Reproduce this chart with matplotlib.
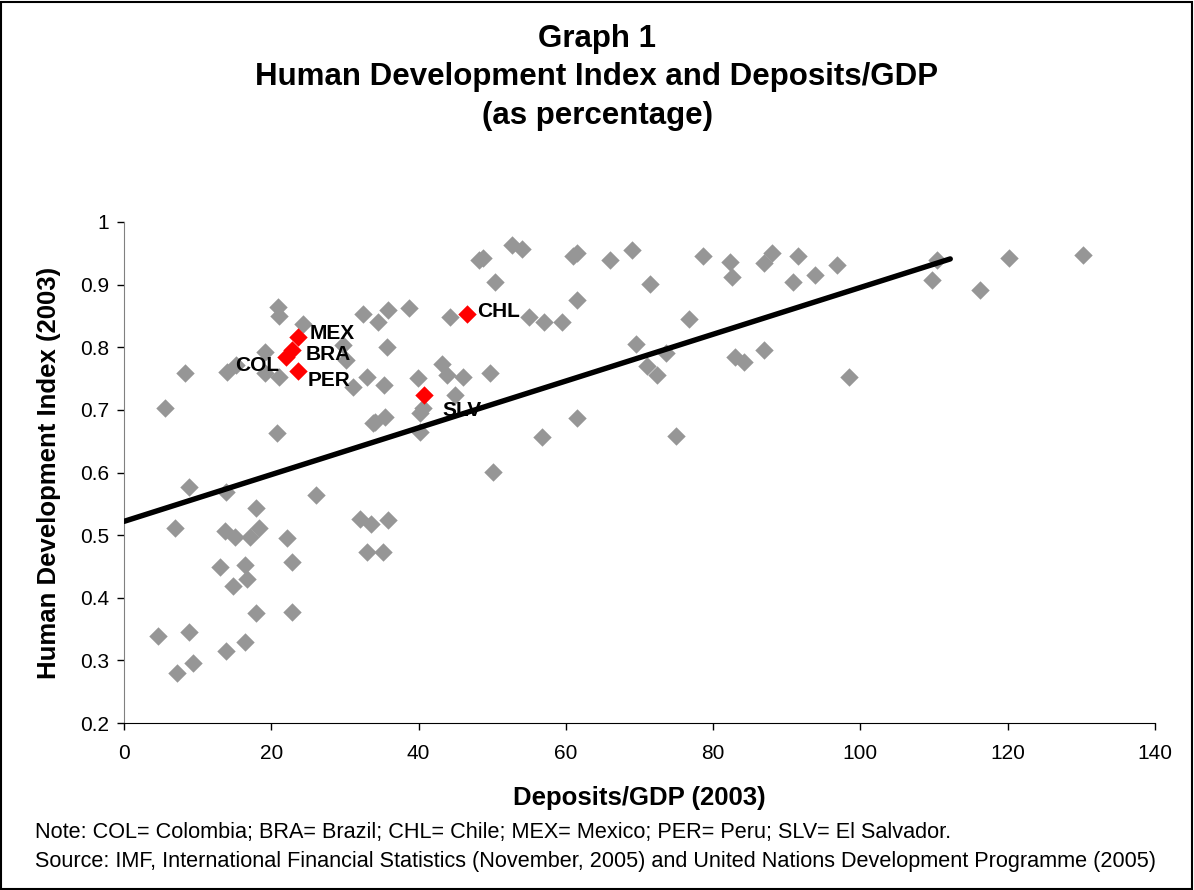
import matplotlib.pyplot as plt
from matplotlib.patches import Rectangle

plt.rcParams['font.family'] = ['Liberation Sans', 'DejaVu Sans']

# Deposits/GDP (x) and HDI (y) for all other countries
other_x = [20.9, 21.1, 24.3, 32.5, 34.5, 19.1, 8.3, 14.0, 15.2, 19.1,
           21.1, 5.6, 20.8, 29.8, 30.2, 31.1, 33.0, 33.8, 52.7, 54.0,
           48.2, 48.8, 61.0, 61.5, 66.0, 50.4, 61.5, 44.3, 55.0, 57.0,
           59.5, 35.9, 38.7, 35.7, 43.2, 43.9, 46.0, 49.7, 39.9, 35.3,
           45.0, 40.6, 40.2, 35.4, 34.1, 40.2, 61.5, 56.8, 50.1, 8.8,
           13.9, 26.1, 17.9, 6.9, 13.7, 15.1, 17.1, 18.3, 22.1, 32.0,
           33.6, 35.8, 13.0, 16.4, 14.8, 16.7, 22.8, 33.0, 35.2, 17.9,
           22.8, 4.6, 8.8, 13.9, 16.4, 9.4, 7.2, 69.0, 78.6, 82.3,
           82.5, 86.9, 88.0, 91.5, 90.8, 93.8, 96.8, 71.4, 76.7, 69.5,
           73.6, 71.0, 72.4, 83.0, 84.2, 86.9, 98.5, 75.0, 110.4, 109.7,
           116.2, 120.2, 130.2]
other_y = [0.864, 0.850, 0.837, 0.853, 0.840, 0.792, 0.759, 0.761, 0.771, 0.759,
           0.752, 0.703, 0.663, 0.803, 0.780, 0.737, 0.752, 0.679, 0.963, 0.957,
           0.940, 0.943, 0.945, 0.951, 0.939, 0.904, 0.875, 0.849, 0.849, 0.841,
           0.841, 0.859, 0.862, 0.801, 0.773, 0.756, 0.753, 0.759, 0.751, 0.740,
           0.724, 0.703, 0.695, 0.689, 0.681, 0.665, 0.687, 0.657, 0.601, 0.577,
           0.569, 0.564, 0.543, 0.511, 0.507, 0.497, 0.497, 0.511, 0.496, 0.526,
           0.518, 0.524, 0.449, 0.453, 0.419, 0.430, 0.457, 0.473, 0.473, 0.376,
           0.377, 0.339, 0.346, 0.315, 0.329, 0.296, 0.280, 0.955, 0.946, 0.936,
           0.912, 0.934, 0.950, 0.945, 0.904, 0.915, 0.931, 0.901, 0.845, 0.805,
           0.791, 0.770, 0.756, 0.785, 0.776, 0.796, 0.753, 0.658, 0.939, 0.907,
           0.891, 0.943, 0.947]

# highlighted Latin American countries
latam_codes = ['MEX', 'BRA', 'COL', 'PER', 'CHL', 'SLV']
latam_x = [23.6, 22.8, 22.0, 23.6, 46.6, 40.7]
latam_y = [0.816, 0.795, 0.785, 0.762, 0.853, 0.724]

# trend line end points
trend_x = [0, 112.2]
trend_y = [0.522, 0.941]

# label offsets (points) and alignment
label_offsets = {'MEX': (8.5, 3), 'BRA': (10, -3), 'COL': (-5, -6.5),
                 'PER': (7, -6.5), 'CHL': (7, 1.5), 'SLV': (13.5, -11)}
label_ha = {'COL': 'right'}

fig = plt.figure(figsize=(11.94, 8.90), dpi=100)
ax = fig.add_axes([0.1039, 0.1876, 0.8634, 0.5630])

ax.scatter(other_x, other_y, marker='D', s=88, color='#969696', linewidths=0, zorder=2)
ax.plot(trend_x, trend_y, color='black', linewidth=3.9, solid_capstyle='round', zorder=3)
ax.scatter(latam_x, latam_y, marker='D', s=88, color='#ff0000', linewidths=0, zorder=4)

for code, x, y in zip(latam_codes, latam_x, latam_y):
    ax.annotate(code, (x, y), xytext=label_offsets[code], textcoords='offset points',
                ha=label_ha.get(code, 'left'), va='center', fontsize=15,
                fontweight='bold', zorder=5)

ax.set_xlim(0, 140)
ax.set_ylim(0.2, 1.0)
ax.set_xticks(range(0, 141, 20))
ax.set_yticks([0.2, 0.3, 0.4, 0.5, 0.6, 0.7, 0.8, 0.9, 1.0])
ax.set_yticklabels(['0.2', '0.3', '0.4', '0.5', '0.6', '0.7', '0.8', '0.9', '1'])
ax.tick_params(direction='out', length=5, width=1, labelsize=15)
ax.tick_params(axis='x', pad=10)
ax.tick_params(axis='y', pad=6)
ax.spines['top'].set_visible(False)
ax.spines['right'].set_visible(False)
ax.spines['left'].set_color('#808080')
ax.spines['bottom'].set_color('black')

ax.set_xlabel('Deposits/GDP (2003)', fontsize=18.5, fontweight='bold')
ax.set_ylabel('Human Development Index (2003)', fontsize=18.5, fontweight='bold')
ax.xaxis.set_label_coords(0.5, -0.126)
ax.yaxis.set_label_coords(-0.061, 0.5)

fig.text(0.5, 0.956, 'Graph 1', ha='center', va='center', fontsize=22.5, fontweight='bold')
fig.text(0.5, 0.913, 'Human Development Index and Deposits/GDP', ha='center', va='center',
         fontsize=22.5, fontweight='bold')
fig.text(0.5, 0.870, '(as percentage)', ha='center', va='center', fontsize=22.5, fontweight='bold')

fig.text(0.029, 0.065, 'Note: COL= Colombia; BRA= Brazil; CHL= Chile; MEX= Mexico; PER= Peru; SLV= El Salvador.',
         ha='left', va='center', fontsize=15.6)
fig.text(0.029, 0.032, 'Source: IMF, International Financial Statistics (November, 2005) and United Nations Development Programme (2005)',
         ha='left', va='center', fontsize=15.6)

fig.patches.append(Rectangle((0.001, 0.001), 0.997, 0.997, transform=fig.transFigure,
                             fill=False, edgecolor='black', linewidth=1.5))

fig.savefig('out.png', dpi=100)
